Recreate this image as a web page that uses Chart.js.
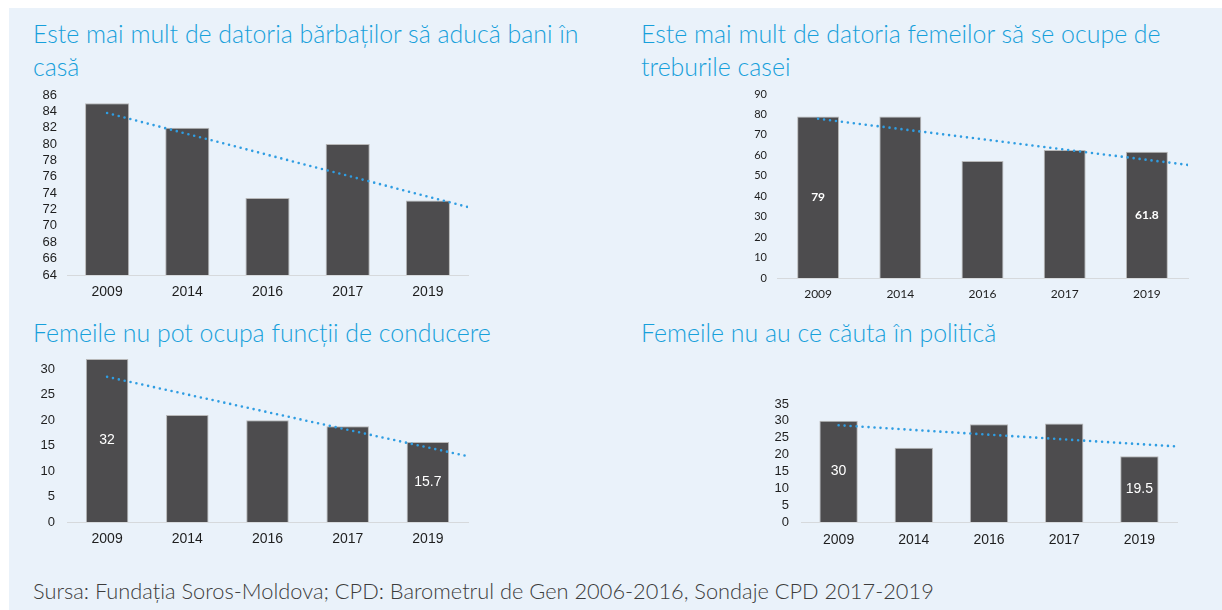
<!DOCTYPE html>
<html>
<head>
<meta charset="utf-8">
<script src="https://cdn.jsdelivr.net/npm/chart.js@4.4.1/dist/chart.umd.min.js"></script>
<style>
    html, body { margin: 0; padding: 0; background: #fff; }
    body { width: 1222px; height: 610px; position: relative; overflow: hidden; }
    .panel { position: absolute; left: 9px; top: 8px; right: 0; bottom: 0; background: #eaf2fa; }
    .title { position: absolute; font-family: Lato, 'Open Sans', sans-serif; font-weight: 300; font-size: 24.9px; line-height: 33px; color: #17a0db; white-space: nowrap; }
    .source { position: absolute; left: 33px; top: 577px; font-family: Lato, 'Open Sans', sans-serif; font-weight: 300; font-size: 21.8px; color: #3c3c3c; white-space: nowrap; }
    canvas { position: absolute; }
</style>
</head>
<body>
<div class="panel"></div>
<div class="title" style="left:33px; top:17px;">Este mai mult de datoria bărbaților să aducă bani în<br>casă</div>
<div class="title" style="left:641px; top:17px;">Este mai mult de datoria femeilor să se ocupe de<br>treburile casei</div>
<div class="title" style="left:33px; top:316px;">Femeile nu pot ocupa funcții de conducere</div>
<div class="title" style="left:641px; top:316px;">Femeile nu au ce căuta în politică</div>
<div class="source">Sursa: Fundația Soros-Moldova; CPD: Barometrul de Gen 2006-2016, Sondaje CPD 2017-2019</div>

<canvas id="c1" width="455" height="220" style="left:20px; top:85px;"></canvas>
<canvas id="c2" width="475" height="224" style="left:720px; top:84px;"></canvas>
<canvas id="c3" width="455" height="207" style="left:20px; top:345px;"></canvas>
<canvas id="c4" width="425" height="160" style="left:760px; top:392px;"></canvas>

<script>
'use strict';

const years = ['2009', '2014', '2016', '2017', '2019'];

// share of respondents agreeing (%)
const menIncome = [85, 82, 73.4, 80, 73.1];
const womenHouse = [79, 79, 57.2, 62.6, 61.8];
const womenLead = [32, 21, 20, 18.8, 15.7];
const womenPolitics = [30, 22, 29, 29.2, 19.5];

// dotted trend lines: start at 2009 (x = 1), run on to the right edge (x = 5.5)
const trendX = [1, 5.5];
const menIncomeTrend = [83.8, 72.3];
const womenHouseTrend = [77.9, 55.3];
const womenLeadTrend = [28.5, 12.9];
const womenPoliticsTrend = [28.7, 22.4];

// y tick labels
const menIncomeTicks = [64, 66, 68, 70, 72, 74, 76, 78, 80, 82, 84, 86];
const womenHouseTicks = [0, 10, 20, 30, 40, 50, 60, 70, 80, 90];
const womenLeadTicks = [0, 5, 10, 15, 20, 25, 30];
const womenPoliticsTicks = [0, 5, 10, 15, 20, 25, 30, 35];

// only the first and last bar carry a value
const labelledBars = [0, 4];

// white value label in the middle of a bar
const barValueLabels = {
    id: 'barValueLabels',
    afterDatasetsDraw(chart, args, opts) {
        const meta = chart.getDatasetMeta(0);
        const values = chart.data.datasets[0].data;
        const ctx = chart.ctx;
        ctx.save();
        ctx.fillStyle = '#ffffff';
        ctx.font = opts.font;
        ctx.textAlign = 'center';
        ctx.textBaseline = 'middle';
        (opts.indices || []).forEach(function (i) {
            const bar = meta.data[i];
            ctx.fillText(String(values[i]), bar.x, (bar.y + bar.base) / 2);
        });
        ctx.restore();
    }
};

function drawPanel(id, values, trend, ticks, opt) {
    const yMin = opt.yMin !== undefined ? opt.yMin : ticks[0];
    const yMax = opt.yMax !== undefined ? opt.yMax : ticks[ticks.length - 1];

    return new Chart(document.getElementById(id), {
        type: 'bar',
        data: {
            labels: years,
            datasets: [{
                data: values,
                backgroundColor: '#4d4c4e',
                borderColor: '#b8b8b8',
                borderWidth: 1,
                // not grouped: each bar sits centred on its year
                grouped: false,
                categoryPercentage: 1,
                barPercentage: opt.barPct,
                order: 0
            }, {
                type: 'line',
                xAxisID: 'xt',
                data: trendX.map((x, i) => ({ x: x, y: trend[i] })),
                borderColor: '#2f9de2',
                borderWidth: 2.6,
                borderDash: [0, 6],
                borderCapStyle: 'round',
                pointRadius: 0,
                fill: false,
                order: -1
            }]
        },
        options: {
            responsive: false,
            animation: false,
            layout: { padding: { top: opt.padTop, right: opt.padRight, left: 0, bottom: 0 } },
            plugins: {
                legend: { display: false },
                tooltip: { enabled: false },
                barValueLabels: { indices: labelledBars, font: opt.valueFont }
            },
            scales: {
                x: {
                    type: 'category',
                    offset: true,
                    grid: { display: false, drawTicks: false },
                    border: { display: true, color: '#d6d9dc', width: 1 },
                    ticks: { color: '#1e1e1e', font: opt.xFont, padding: opt.xPad, maxRotation: 0, autoSkip: false },
                    afterFit: s => { s.height = 30; s.paddingLeft = 0; s.paddingRight = 0; }
                },
                xt: {
                    type: 'linear',
                    display: false,
                    offset: false,
                    min: 0.5,
                    max: 5.5
                },
                y: {
                    min: yMin,
                    max: yMax,
                    grid: { display: false, drawTicks: false },
                    border: { display: false },
                    ticks: { color: '#1e1e1e', font: opt.yFont, padding: opt.yPad, autoSkip: false },
                    afterBuildTicks: s => { s.ticks = ticks.map(v => ({ value: v })); },
                    afterFit: s => { s.width = opt.yWidth; s.paddingTop = 0; s.paddingBottom = 0; }
                }
            }
        },
        plugins: [barValueLabels]
    });
}

const arial = 'Liberation Sans, Arial, sans-serif';
const calibri = 'Lato, sans-serif';

drawPanel('c1', menIncome, menIncomeTrend, menIncomeTicks, {
    barPct: 0.55, padTop: 10, padRight: 7, yWidth: 47, yPad: 10, xPad: 9,
    yFont: { family: arial, size: 13 }, xFont: { family: arial, size: 14 },
    valueFont: 'bold 10px ' + arial
});

drawPanel('c2', womenHouse, womenHouseTrend, womenHouseTicks, {
    barPct: 0.51, padTop: 10, padRight: 7, yWidth: 57, yPad: 10, xPad: 9,
    yFont: { family: calibri, size: 11 }, xFont: { family: calibri, size: 12 },
    valueFont: 'bold 12px ' + calibri
});

drawPanel('c3', womenLead, womenLeadTrend, womenLeadTicks, {
    yMax: 32, barPct: 0.53, padTop: 14, padRight: 7, yWidth: 47, yPad: 12, xPad: 9,
    yFont: { family: arial, size: 13 }, xFont: { family: arial, size: 14 },
    valueFont: '14px ' + arial
});

drawPanel('c4', womenPolitics, womenPoliticsTrend, womenPoliticsTicks, {
    barPct: 0.51, padTop: 12, padRight: 8, yWidth: 41, yPad: 12, xPad: 10,
    yFont: { family: arial, size: 13 }, xFont: { family: arial, size: 14 },
    valueFont: '14px ' + arial
});
</script>
</body>
</html>
